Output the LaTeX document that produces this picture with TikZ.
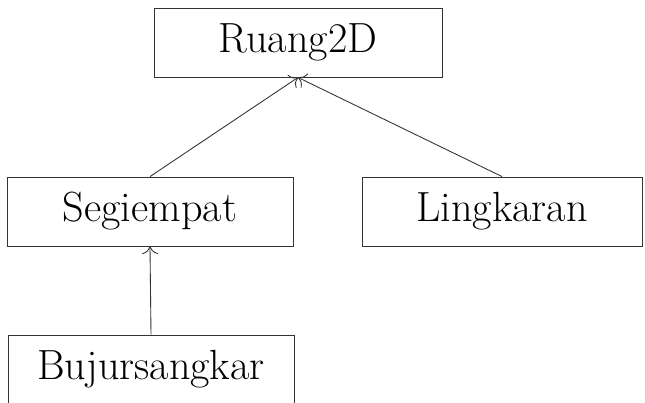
\documentclass[tikz,border=0pt]{standalone}
\usepackage{xcolor}
\usepackage{tikz}
\usetikzlibrary{arrows.meta}
\usetikzlibrary{shapes}
\usetikzlibrary{positioning}
\tikzset{>={To[scale=1.6]}}
\tikzstyle{kelas} = [rectangle, draw=black!80, line width=0.5pt, minimum height=1.38cm, font=\fontsize{24}{28}\selectfont]

\begin{document}
\begin{tikzpicture}
\useasboundingbox (0, 0) rectangle (12.9, -8.04);
\node [kelas, minimum width=5.76cm] (R) at (5.96, -0.85) {Ruang2D};
\node [kelas, minimum width=5.72cm] (S) at (3.0, -4.23) {Segiempat};
\node [kelas, minimum width=5.6cm] (L) at (10.04, -4.23) {Lingkaran};
\node [kelas, minimum width=5.72cm] (B) at (3.02, -7.39) {Bujursangkar};
\draw [->, draw = black!80, line width=0.5pt] (S.north) to (R.south);
\draw [->, draw = black!80, line width=0.5pt] (L.north) to (R.south);
\draw [->, draw = black!80, line width=0.5pt] (B.north) to (S.south);
\end{tikzpicture}
\end{document}
